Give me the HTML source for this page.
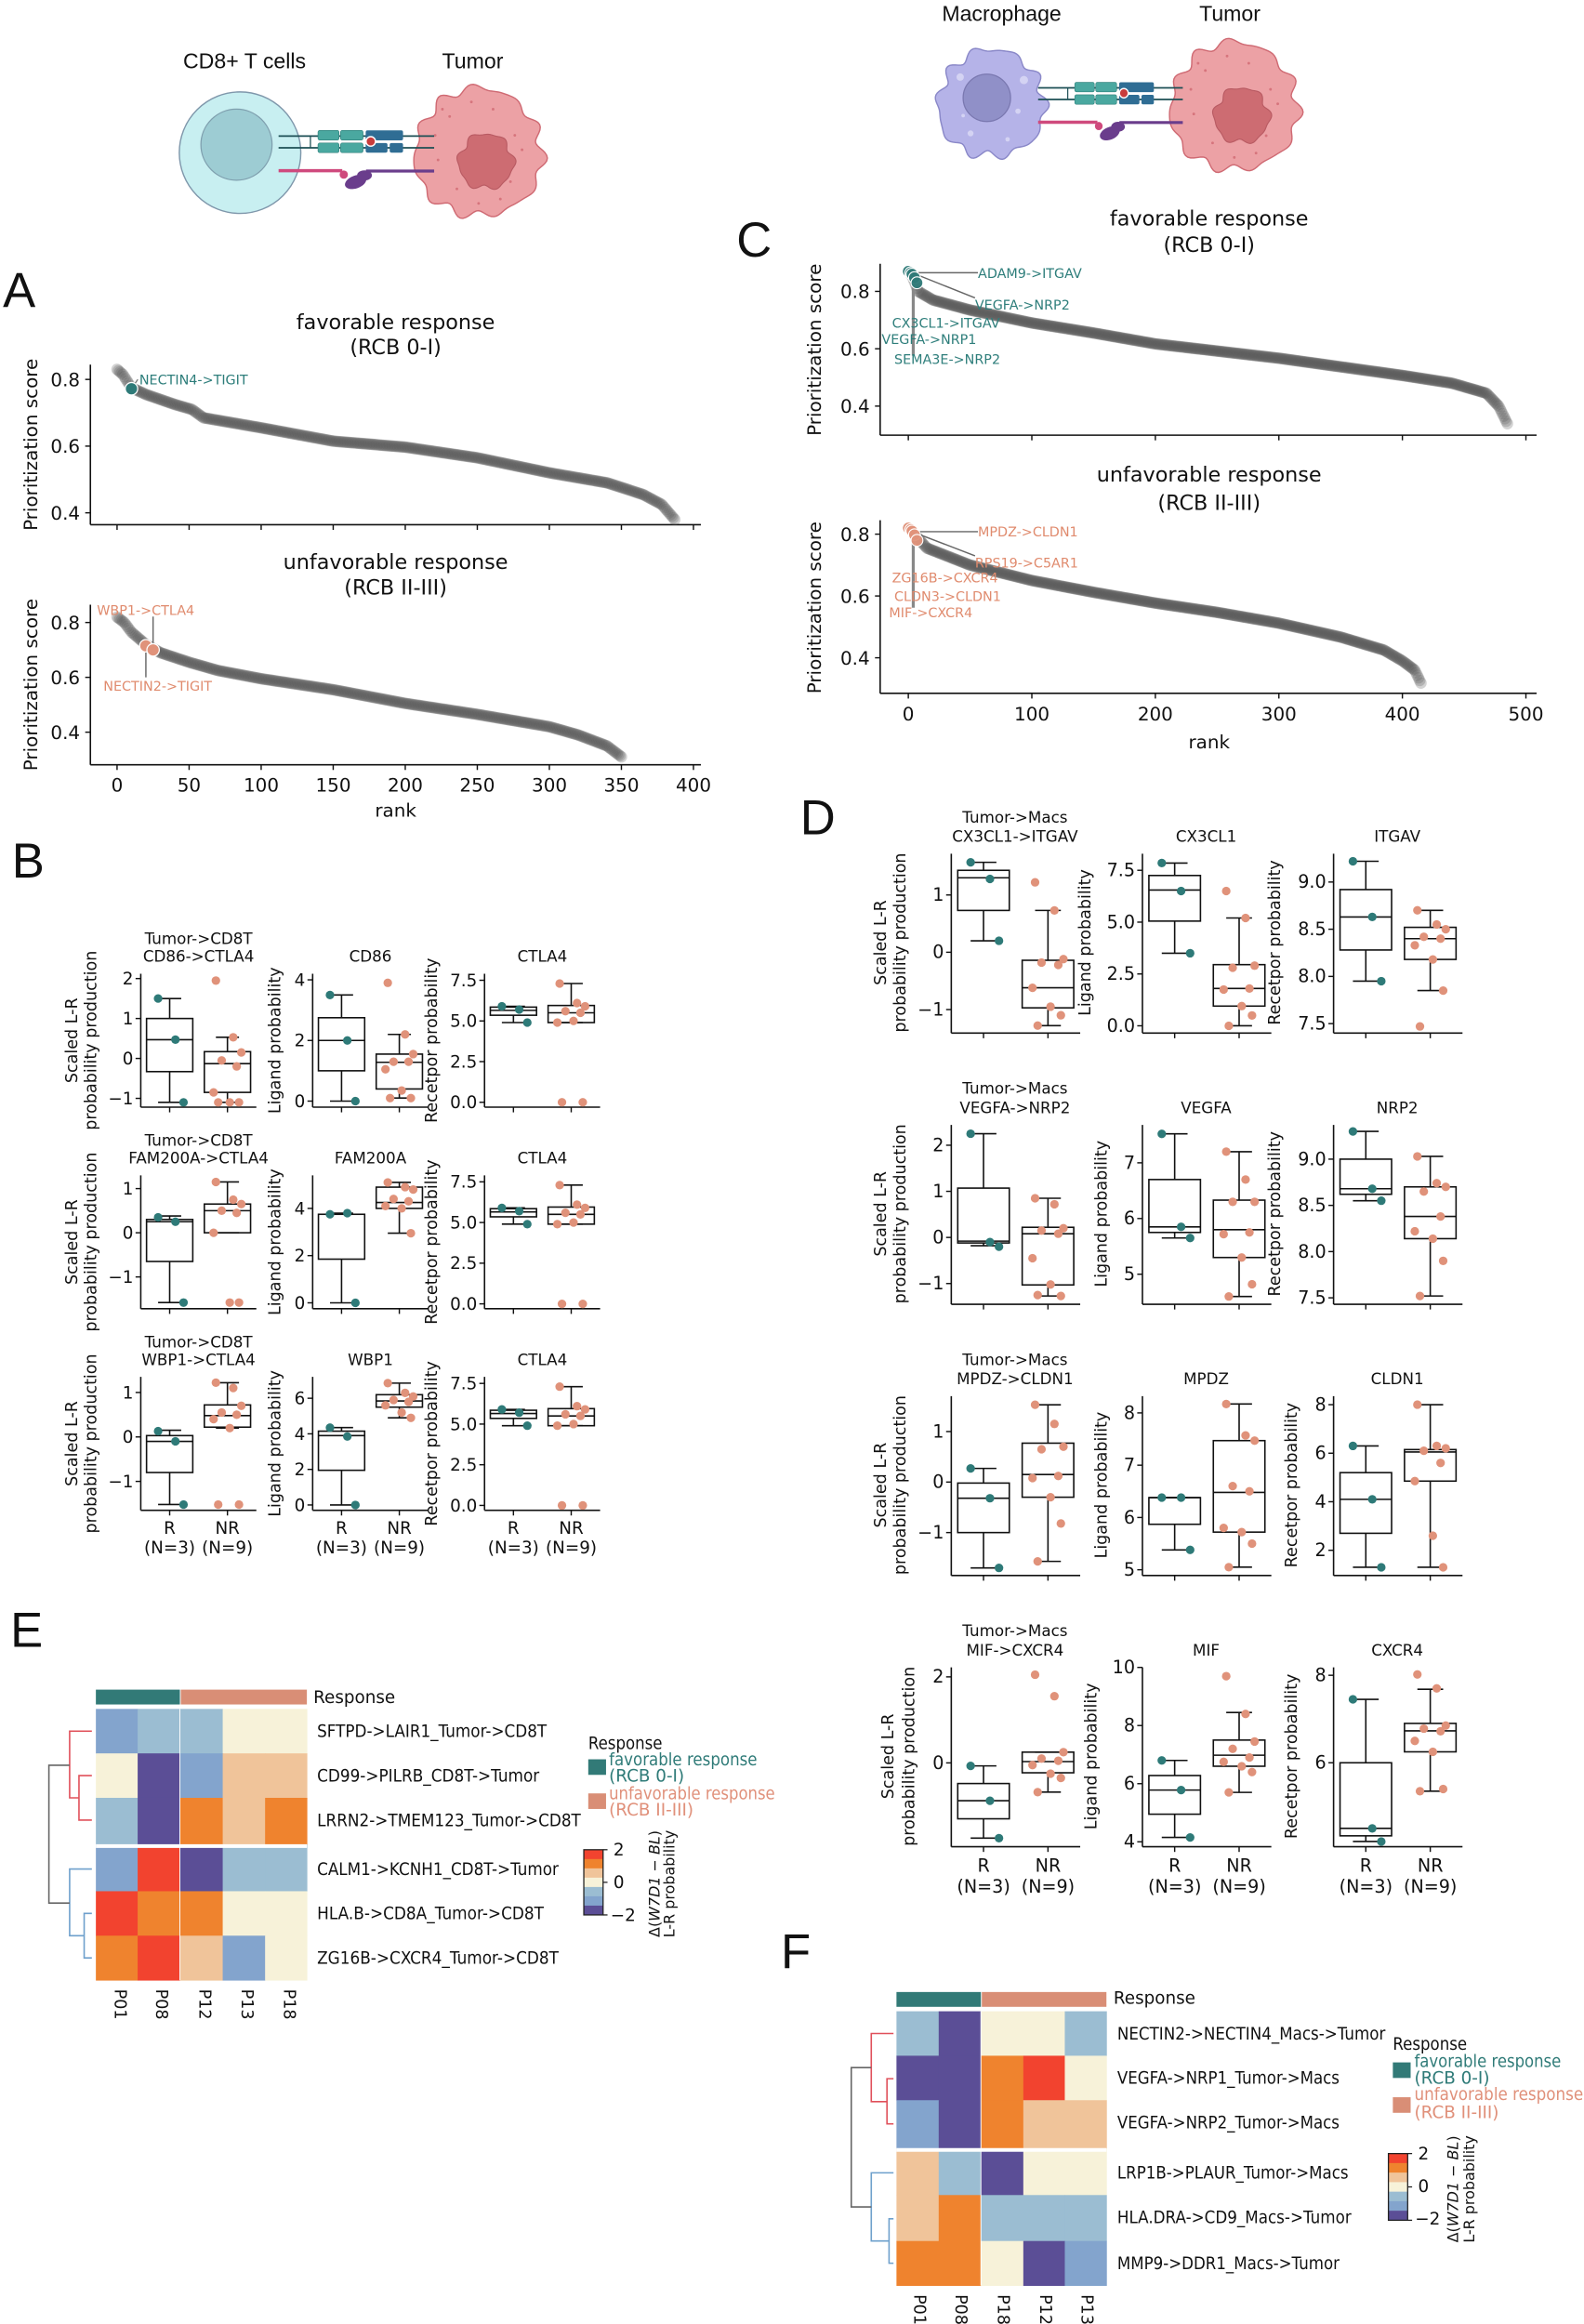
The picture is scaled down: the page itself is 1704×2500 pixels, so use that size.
<!DOCTYPE html>
<html><head><meta charset="utf-8"><style>
html,body{margin:0;padding:0;background:#fff}
svg{display:block}
text{font-family:"DejaVu Sans","Liberation Sans",sans-serif;fill:#111}
.big{font-family:"Liberation Sans",sans-serif;font-size:33px}
.ill{font-family:"Liberation Sans",sans-serif;font-size:14.5px}
.tk{font-size:12.5px}
.ttl{font-size:14px;text-anchor:middle}
.yl{font-size:12.5px;text-anchor:middle}
.bt{font-size:10.5px;text-anchor:middle}
.bl{font-size:11px;text-anchor:middle}
.yt{font-size:11.5px;text-anchor:end}
g[id^=d] text.yt{font-size:12px}
.ann{font-size:9px}
.hl{font-size:11.5px}
</style></head><body>
<svg id="s" xmlns="http://www.w3.org/2000/svg" width="1704" height="2500" viewBox="0 0 1069 1568" preserveAspectRatio="none">
<rect width="1069" height="1568" fill="#fff"/>
<g id="illA"></g><g id="illC"></g>
<text class="ill" x="165" y="46" text-anchor="middle">CD8+ T cells</text>
<text class="ill" x="319" y="46" text-anchor="middle">Tumor</text>
<text class="ill" x="676" y="14" text-anchor="middle">Macrophage</text>
<text class="ill" x="830" y="14" text-anchor="middle">Tumor</text>
<text class="big" x="2" y="207">A</text>
<text class="big" x="497" y="173">C</text>
<text class="big" x="8" y="592">B</text>
<text class="big" x="540" y="563">D</text>
<text class="big" x="7" y="1111">E</text>
<text class="big" x="527" y="1328">F</text>
<g id="scat"></g>
<text class="ttl" x="267" y="222">favorable response</text>
<text class="ttl" x="267" y="239">(RCB 0-I)</text>
<text class="ttl" x="267" y="384">unfavorable response</text>
<text class="ttl" x="267" y="401">(RCB II-III)</text>
<text class="yl" transform="translate(25,300) rotate(-90)">Prioritization score</text>
<text class="yl" transform="translate(25,462) rotate(-90)">Prioritization score</text>
<g class="tk" text-anchor="end">
<text x="54" y="260.5">0.8</text><text x="54" y="305.5">0.6</text><text x="54" y="350.5">0.4</text>
<text x="54" y="424.5">0.8</text><text x="54" y="461.5">0.6</text><text x="54" y="498.5">0.4</text>
</g>
<g class="tk" text-anchor="middle">
<text x="79" y="534">0</text><text x="127.6" y="534">50</text><text x="176.3" y="534">100</text><text x="224.9" y="534">150</text><text x="273.5" y="534">200</text><text x="322.1" y="534">250</text><text x="370.8" y="534">300</text><text x="419.4" y="534">350</text><text x="468" y="534">400</text>
<text x="267" y="551">rank</text>
</g>
<text class="ann" x="94" y="259.5" style="fill:#2e7e7b">NECTIN4-&gt;TIGIT</text>
<text class="ann" x="65.4" y="415" style="fill:#e08b6e">WBP1-&gt;CTLA4</text>
<text class="ann" x="69.8" y="466" style="fill:#e08b6e">NECTIN2-&gt;TIGIT</text>
<text class="ttl" x="816" y="152">favorable response</text>
<text class="ttl" x="816" y="170">(RCB 0-I)</text>
<text class="ttl" x="816" y="325">unfavorable response</text>
<text class="ttl" x="816" y="344">(RCB II-III)</text>
<text class="yl" transform="translate(554,236) rotate(-90)">Prioritization score</text>
<text class="yl" transform="translate(554,410) rotate(-90)">Prioritization score</text>
<g class="tk" text-anchor="end">
<text x="587" y="201">0.8</text><text x="587" y="239.8">0.6</text><text x="587" y="278.5">0.4</text>
<text x="587" y="364.9">0.8</text><text x="587" y="406.9">0.6</text><text x="587" y="448.3">0.4</text>
</g>
<g class="tk" text-anchor="middle">
<text x="613" y="486">0</text><text x="696.4" y="486">100</text><text x="779.7" y="486">200</text><text x="863.1" y="486">300</text><text x="946.4" y="486">400</text><text x="1029.8" y="486">500</text>
<text x="816" y="505">rank</text>
</g>
<g class="ann">
<text x="660" y="187.5" style="fill:#2e7e7b">ADAM9-&gt;ITGAV</text>
<text x="658" y="209" style="fill:#2e7e7b">VEGFA-&gt;NRP2</text>
<text x="602" y="221" style="fill:#2e7e7b">CX3CL1-&gt;ITGAV</text>
<text x="595" y="232" style="fill:#2e7e7b">VEGFA-&gt;NRP1</text>
<text x="603.5" y="245.5" style="fill:#2e7e7b">SEMA3E-&gt;NRP2</text>
</g>
<g class="ann">
<text x="660" y="362" style="fill:#e08b6e">MPDZ-&gt;CLDN1</text>
<text x="658" y="383" style="fill:#e08b6e">RPS19-&gt;C5AR1</text>
<text x="602" y="393" style="fill:#e08b6e">ZG16B-&gt;CXCR4</text>
<text x="603.5" y="405.5" style="fill:#e08b6e">CLDN3-&gt;CLDN1</text>
<text x="600" y="416.5" style="fill:#e08b6e">MIF-&gt;CXCR4</text>
</g>
<g id="b11"><text class="yt">2</text><text class="yt">1</text><text class="yt">0</text><text class="yt">−1</text></g>
<g id="b12"><text class="yt">0</text><text class="yt">2</text><text class="yt">4</text></g>
<g id="b13"><text class="yt">0.0</text><text class="yt">2.5</text><text class="yt">5.0</text><text class="yt">7.5</text></g>
<g id="b21"><text class="yt">1</text><text class="yt">0</text><text class="yt">−1</text></g>
<g id="b22"><text class="yt">0</text><text class="yt">2</text><text class="yt">4</text></g>
<g id="b23"><text class="yt">0.0</text><text class="yt">2.5</text><text class="yt">5.0</text><text class="yt">7.5</text></g>
<g id="b31"><text class="yt">1</text><text class="yt">0</text><text class="yt">−1</text></g>
<g id="b32"><text class="yt">0</text><text class="yt">2</text><text class="yt">4</text><text class="yt">6</text></g>
<g id="b33"><text class="yt">0.0</text><text class="yt">2.5</text><text class="yt">5.0</text><text class="yt">7.5</text></g>
<g>
<text class="bt" x="134" y="637">Tumor-&gt;CD8T</text><text class="bt" x="134" y="649">CD86-&gt;CTLA4</text>
<text class="bt" x="250" y="649">CD86</text><text class="bt" x="366" y="649">CTLA4</text>
<text class="bt" x="134" y="773">Tumor-&gt;CD8T</text><text class="bt" x="134" y="785">FAM200A-&gt;CTLA4</text>
<text class="bt" x="250" y="785">FAM200A</text><text class="bt" x="366" y="785">CTLA4</text>
<text class="bt" x="134" y="909">Tumor-&gt;CD8T</text><text class="bt" x="134" y="921">WBP1-&gt;CTLA4</text>
<text class="bt" x="250" y="921">WBP1</text><text class="bt" x="366" y="921">CTLA4</text>
</g>
<g>
<text class="bl" transform="translate(52,702) rotate(-90)">Scaled L-R</text><text class="bl" transform="translate(65,702) rotate(-90)">probability production</text>
<text class="bl" transform="translate(189,702) rotate(-90)">Ligand probability</text>
<text class="bl" transform="translate(295,702) rotate(-90)">Recetpor probability</text>
<text class="bl" transform="translate(52,838) rotate(-90)">Scaled L-R</text><text class="bl" transform="translate(65,838) rotate(-90)">probability production</text>
<text class="bl" transform="translate(189,838) rotate(-90)">Ligand probability</text>
<text class="bl" transform="translate(295,838) rotate(-90)">Recetpor probability</text>
<text class="bl" transform="translate(52,974) rotate(-90)">Scaled L-R</text><text class="bl" transform="translate(65,974) rotate(-90)">probability production</text>
<text class="bl" transform="translate(189,974) rotate(-90)">Ligand probability</text>
<text class="bl" transform="translate(295,974) rotate(-90)">Recetpor probability</text>
</g>
<g class="tk" style="font-size:11.5px" text-anchor="middle">
<text x="114.5" y="1035">R</text><text x="114.5" y="1048">(N=3)</text><text x="153.5" y="1035">NR</text><text x="153.5" y="1048">(N=9)</text>
<text x="230.5" y="1035">R</text><text x="230.5" y="1048">(N=3)</text><text x="269.5" y="1035">NR</text><text x="269.5" y="1048">(N=9)</text>
<text x="346.5" y="1035">R</text><text x="346.5" y="1048">(N=3)</text><text x="385.5" y="1035">NR</text><text x="385.5" y="1048">(N=9)</text>
</g>
<g id="d11"><text class="yt">1</text><text class="yt">0</text><text class="yt">−1</text></g>
<g id="d12"><text class="yt">0.0</text><text class="yt">2.5</text><text class="yt">5.0</text><text class="yt">7.5</text></g>
<g id="d13"><text class="yt">7.5</text><text class="yt">8.0</text><text class="yt">8.5</text><text class="yt">9.0</text></g>
<g id="d21"><text class="yt">2</text><text class="yt">1</text><text class="yt">0</text><text class="yt">−1</text></g>
<g id="d22"><text class="yt">5</text><text class="yt">6</text><text class="yt">7</text></g>
<g id="d23"><text class="yt">7.5</text><text class="yt">8.0</text><text class="yt">8.5</text><text class="yt">9.0</text></g>
<g id="d31"><text class="yt">1</text><text class="yt">0</text><text class="yt">−1</text></g>
<g id="d32"><text class="yt">5</text><text class="yt">6</text><text class="yt">7</text><text class="yt">8</text></g>
<g id="d33"><text class="yt">2</text><text class="yt">4</text><text class="yt">6</text><text class="yt">8</text></g>
<g id="d41"><text class="yt">2</text><text class="yt">0</text></g>
<g id="d42"><text class="yt">4</text><text class="yt">6</text><text class="yt">8</text><text class="yt">10</text></g>
<g id="d43"><text class="yt">6</text><text class="yt">8</text></g>
<g>
<text class="bt" x="685" y="555">Tumor-&gt;Macs</text><text class="bt" x="685" y="568">CX3CL1-&gt;ITGAV</text>
<text class="bt" x="814" y="568">CX3CL1</text><text class="bt" x="943" y="568">ITGAV</text>
<text class="bt" x="685" y="738">Tumor-&gt;Macs</text><text class="bt" x="685" y="751">VEGFA-&gt;NRP2</text>
<text class="bt" x="814" y="751">VEGFA</text><text class="bt" x="943" y="751">NRP2</text>
<text class="bt" x="685" y="921">Tumor-&gt;Macs</text><text class="bt" x="685" y="934">MPDZ-&gt;CLDN1</text>
<text class="bt" x="814" y="934">MPDZ</text><text class="bt" x="943" y="934">CLDN1</text>
<text class="bt" x="685" y="1104">Tumor-&gt;Macs</text><text class="bt" x="685" y="1117">MIF-&gt;CXCR4</text>
<text class="bt" x="814" y="1117">MIF</text><text class="bt" x="943" y="1117">CXCR4</text>
</g>
<g>
<text class="bl" transform="translate(598,636) rotate(-90)">Scaled L-R</text><text class="bl" transform="translate(611,636) rotate(-90)">probability production</text>
<text class="bl" transform="translate(736,636) rotate(-90)">Ligand probability</text>
<text class="bl" transform="translate(864,636) rotate(-90)">Recetpor probability</text>
<text class="bl" transform="translate(598,819) rotate(-90)">Scaled L-R</text><text class="bl" transform="translate(611,819) rotate(-90)">probability production</text>
<text class="bl" transform="translate(747,819) rotate(-90)">Ligand probability</text>
<text class="bl" transform="translate(864,819) rotate(-90)">Recetpor probability</text>
<text class="bl" transform="translate(598,1002) rotate(-90)">Scaled L-R</text><text class="bl" transform="translate(611,1002) rotate(-90)">probability production</text>
<text class="bl" transform="translate(747,1002) rotate(-90)">Ligand probability</text>
<text class="bl" transform="translate(875,1002) rotate(-90)">Recetpor probability</text>
<text class="bl" transform="translate(603,1185) rotate(-90)">Scaled L-R</text><text class="bl" transform="translate(617,1185) rotate(-90)">probability production</text>
<text class="bl" transform="translate(740,1185) rotate(-90)">Ligand probability</text>
<text class="bl" transform="translate(875,1185) rotate(-90)">Recetpor probability</text>
</g>
<g class="tk" style="font-size:12px" text-anchor="middle">
<text x="663.8" y="1263">R</text><text x="663.8" y="1277">(N=3)</text><text x="707.3" y="1263">NR</text><text x="707.3" y="1277">(N=9)</text>
<text x="792.8" y="1263">R</text><text x="792.8" y="1277">(N=3)</text><text x="836.3" y="1263">NR</text><text x="836.3" y="1277">(N=9)</text>
<text x="921.8" y="1263">R</text><text x="921.8" y="1277">(N=3)</text><text x="965.3" y="1263">NR</text><text x="965.3" y="1277">(N=9)</text>
</g>
<g id="hmE"></g>
<g class="hl">
<text x="211.5" y="1149">Response</text>
<text x="214" y="1172" textLength="155" lengthAdjust="spacingAndGlyphs">SFTPD-&gt;LAIR1_Tumor-&gt;CD8T</text>
<text x="214" y="1202" textLength="150" lengthAdjust="spacingAndGlyphs">CD99-&gt;PILRB_CD8T-&gt;Tumor</text>
<text x="214" y="1232" textLength="178" lengthAdjust="spacingAndGlyphs">LRRN2-&gt;TMEM123_Tumor-&gt;CD8T</text>
<text x="214" y="1265" textLength="163" lengthAdjust="spacingAndGlyphs">CALM1-&gt;KCNH1_CD8T-&gt;Tumor</text>
<text x="214" y="1295" textLength="153" lengthAdjust="spacingAndGlyphs">HLA.B-&gt;CD8A_Tumor-&gt;CD8T</text>
<text x="214" y="1325" textLength="163" lengthAdjust="spacingAndGlyphs">ZG16B-&gt;CXCR4_Tumor-&gt;CD8T</text>
<text x="397" y="1180" textLength="50" lengthAdjust="spacingAndGlyphs">Response</text>
<text x="411" y="1191" textLength="100" lengthAdjust="spacingAndGlyphs" style="fill:#2f7b78">favorable response</text>
<text x="411" y="1202" style="fill:#2f7b78">(RCB 0-I)</text>
<text x="411" y="1214" textLength="112" lengthAdjust="spacingAndGlyphs" style="fill:#e0907a">unfavorable response</text>
<text x="411" y="1225" style="fill:#e0907a">(RCB II-III)</text>
<text x="414" y="1252">2</text><text x="414" y="1274">0</text><text x="412" y="1296">−2</text>
</g>
<text style="font-size:10px" text-anchor="middle" transform="translate(445,1271) rotate(-90)">Δ(<tspan font-style="italic">W7D1</tspan> − <tspan font-style="italic">BL</tspan>)</text>
<text style="font-size:10px" text-anchor="middle" transform="translate(455,1271) rotate(-90)">L-R probability</text>
<g class="hl" style="font-size:11px">
<text transform="translate(77.5,1342) rotate(90)">P01</text>
<text transform="translate(105.5,1342) rotate(90)">P08</text>
<text transform="translate(134.5,1342) rotate(90)">P12</text>
<text transform="translate(163,1342) rotate(90)">P13</text>
<text transform="translate(191.5,1342) rotate(90)">P18</text>
</g>
<g id="hmF"></g>
<g class="hl">
<text x="751.5" y="1352">Response</text>
<text x="754" y="1376" textLength="181" lengthAdjust="spacingAndGlyphs">NECTIN2-&gt;NECTIN4_Macs-&gt;Tumor</text>
<text x="754" y="1406" textLength="150" lengthAdjust="spacingAndGlyphs">VEGFA-&gt;NRP1_Tumor-&gt;Macs</text>
<text x="754" y="1436" textLength="150" lengthAdjust="spacingAndGlyphs">VEGFA-&gt;NRP2_Tumor-&gt;Macs</text>
<text x="754" y="1470" textLength="156" lengthAdjust="spacingAndGlyphs">LRP1B-&gt;PLAUR_Tumor-&gt;Macs</text>
<text x="754" y="1500" textLength="158" lengthAdjust="spacingAndGlyphs">HLA.DRA-&gt;CD9_Macs-&gt;Tumor</text>
<text x="754" y="1531" textLength="150" lengthAdjust="spacingAndGlyphs">MMP9-&gt;DDR1_Macs-&gt;Tumor</text>
<text x="940" y="1383" textLength="50" lengthAdjust="spacingAndGlyphs">Response</text>
<text x="954.5" y="1394.5" textLength="99" lengthAdjust="spacingAndGlyphs" style="fill:#2f7b78">favorable response</text>
<text x="954.5" y="1406" style="fill:#2f7b78">(RCB 0-I)</text>
<text x="954.5" y="1417" textLength="114" lengthAdjust="spacingAndGlyphs" style="fill:#e0907a">unfavorable response</text>
<text x="954.5" y="1429" style="fill:#e0907a">(RCB II-III)</text>
<text x="957" y="1457">2</text><text x="957" y="1479">0</text><text x="955" y="1501">−2</text>
</g>
<text style="font-size:10px" text-anchor="middle" transform="translate(984,1477) rotate(-90)">Δ(<tspan font-style="italic">W7D1</tspan> − <tspan font-style="italic">BL</tspan>)</text>
<text style="font-size:10px" text-anchor="middle" transform="translate(995,1477) rotate(-90)">L-R probability</text>
<g class="hl" style="font-size:11px">
<text transform="translate(617,1548) rotate(90)">P01</text>
<text transform="translate(645,1548) rotate(90)">P08</text>
<text transform="translate(673.5,1548) rotate(90)">P18</text>
<text transform="translate(702,1548) rotate(90)">P12</text>
<text transform="translate(730,1548) rotate(90)">P13</text>
</g>
</svg>
<script>
(function(){
var NS='http://www.w3.org/2000/svg';
function el(p,t,a){var e=document.createElementNS(NS,t);for(var k in a)e.setAttribute(k,a[k]);p.appendChild(e);return e;}
function G(id){return document.getElementById(id);}
var TEAL='#2e7a78',SAL='#e0927a';
function interp(K,r){for(var i=0;i<K.length-1;i++){if(r<=K[i+1][0]){var t=(r-K[i][0])/(K[i+1][0]-K[i][0]);return K[i][1]+t*(K[i+1][1]-K[i][1]);}}return K[K.length-1][1];}
var sc=G('scat');
function axes(x0,x1,yt,yb,ticksY,ticksX,yf,xf){
 el(sc,'line',{x1:x0,y1:yt,x2:x0,y2:yb,stroke:'#111','stroke-width':1});
 el(sc,'line',{x1:x0,y1:yb,x2:x1,y2:yb,stroke:'#111','stroke-width':1});
 ticksY.forEach(function(v){var y=yf(v);el(sc,'line',{x1:x0-3.5,y1:y,x2:x0,y2:y,stroke:'#111','stroke-width':0.9});});
 ticksX.forEach(function(v){var x=xf(v);el(sc,'line',{x1:x,y1:yb,x2:x,y2:yb+3.5,stroke:'#111','stroke-width':0.9});});
}
function scat(N,K,xf,yf){var g=el(sc,'g',{fill:'#555','fill-opacity':0.26});for(var r=0;r<N;r++){el(g,'circle',{cx:xf(r),cy:yf(interp(K,r)),r:3.9});}}
var xA=function(r){return 79+r*0.9725;};
var yA1=function(v){return 256+(0.8-v)*225;};
var yA2=function(v){return 420+(0.8-v)*185;};
axes(61,473,246,354,[0.8,0.6,0.4],[0,50,100,150,200,250,300,350,400],yA1,xA);
axes(61,473,408,516,[0.8,0.6,0.4],[0,50,100,150,200,250,300,350,400],yA2,xA);
scat(388,[[0,0.83],[4,0.815],[10,0.775],[20,0.755],[40,0.725],[52,0.71],[60,0.685],[100,0.655],[150,0.615],[200,0.597],[250,0.565],[300,0.52],[340,0.49],[365,0.455],[378,0.425],[387,0.38]],xA,yA1);
scat(351,[[0,0.82],[5,0.80],[10,0.765],[20,0.72],[30,0.69],[50,0.655],[70,0.625],[100,0.595],[150,0.555],[200,0.505],[250,0.465],[300,0.42],[320,0.39],[340,0.35],[350,0.31]],xA,yA2);
el(sc,'line',{x1:xA(10),y1:yA1(0.772),x2:93,y2:256,stroke:'#777','stroke-width':0.8});
el(sc,'circle',{cx:xA(10),cy:yA1(0.772),r:4.2,fill:TEAL,stroke:'#fff','stroke-width':0.8});
el(sc,'line',{x1:xA(25),y1:416,x2:xA(25),y2:yA2(0.70),stroke:'#666','stroke-width':0.9});
el(sc,'line',{x1:xA(20),y1:yA2(0.715),x2:xA(20),y2:457,stroke:'#666','stroke-width':0.9});
el(sc,'circle',{cx:xA(20),cy:yA2(0.715),r:4.2,fill:SAL,stroke:'#fff','stroke-width':0.8});
el(sc,'circle',{cx:xA(25),cy:yA2(0.70),r:4.2,fill:SAL,stroke:'#fff','stroke-width':0.8});
var xC=function(r){return 613+r*0.8336;};
var yC1=function(v){return 196.6+(0.8-v)*193.5;};
var yC2=function(v){return 360.4+(0.8-v)*208.5;};
axes(594,1037,178,293.6,[0.8,0.6,0.4],[0,100,200,300,400,500],yC1,xC);
axes(594,1037,351,467.8,[0.8,0.6,0.4],[0,100,200,300,400,500],yC2,xC);
scat(486,[[0,0.87],[3,0.855],[8,0.80],[20,0.77],[50,0.735],[100,0.69],[150,0.655],[200,0.617],[250,0.592],[300,0.567],[350,0.537],[400,0.507],[440,0.48],[468,0.445],[478,0.40],[486,0.33]],xC,yC1);
scat(416,[[0,0.82],[5,0.80],[15,0.755],[50,0.70],[100,0.65],[150,0.612],[200,0.577],[250,0.547],[300,0.512],[350,0.467],[385,0.425],[400,0.39],[410,0.36],[416,0.31]],xC,yC2);
function hlC(yf,col,yH,yD,yV){
 el(sc,'line',{x1:xC(3),y1:yH,x2:660,y2:yH,stroke:'#666','stroke-width':0.9});
 el(sc,'line',{x1:xC(3),y1:yH,x2:658,y2:yD,stroke:'#666','stroke-width':0.9});
 el(sc,'line',{x1:xC(4),y1:yH,x2:xC(4),y2:yV,stroke:'#888','stroke-width':2});
 [[0,0.87],[2,0.865],[3,0.86],[5,0.848],[7,0.83]].forEach(function(p){el(sc,'circle',{cx:xC(p[0]),cy:yf(p[1]-(col==SAL?0.05:0)),r:4,fill:col,stroke:'#fff','stroke-width':0.7,'fill-opacity':0.95});});
}
hlC(yC1,TEAL,184,201,240);
hlC(yC2,SAL,358.7,375,410);
var jit=[-0.1,0.05,0.12,-0.05,0.08,-0.12,0.02,0.1,-0.08,0.0];
function box(id,x0,y0,w,h,lo,hi,R,NR){
 var g=G(id);var yf=function(v){return y0+h*(hi-v)/(hi-lo);};
 el(g,'line',{x1:x0,y1:y0,x2:x0,y2:y0+h,stroke:'#111','stroke-width':1});
 el(g,'line',{x1:x0,y1:y0+h,x2:x0+w,y2:y0+h,stroke:'#111','stroke-width':1});
 var ts=g.querySelectorAll('text');
 for(var i=0;i<ts.length;i++){var v=parseFloat(ts[i].textContent.replace('−','-'));var y=yf(v);ts[i].setAttribute('x',x0-5);ts[i].setAttribute('y',y+4);el(g,'line',{x1:x0-3.5,y1:y,x2:x0,y2:y,stroke:'#111','stroke-width':0.9});}
 [[R,0.25,TEAL],[NR,0.75,SAL]].forEach(function(q){
  var d=q[0],cx=x0+q[1]*w,bw=0.4*w,c=q[2];
  el(g,'line',{x1:cx,y1:y0+h,x2:cx,y2:y0+h+3.5,stroke:'#111','stroke-width':0.9});
  el(g,'line',{x1:cx,y1:yf(d[0]),x2:cx,y2:yf(d[2]),stroke:'#111','stroke-width':1});
  el(g,'line',{x1:cx,y1:yf(d[3]),x2:cx,y2:yf(d[1]),stroke:'#111','stroke-width':1});
  el(g,'line',{x1:cx-bw/4,y1:yf(d[0]),x2:cx+bw/4,y2:yf(d[0]),stroke:'#111','stroke-width':1});
  el(g,'line',{x1:cx-bw/4,y1:yf(d[1]),x2:cx+bw/4,y2:yf(d[1]),stroke:'#111','stroke-width':1});
  el(g,'rect',{x:cx-bw/2,y:yf(d[3]),width:bw,height:Math.max(0.5,yf(d[2])-yf(d[3])),fill:'none',stroke:'#111','stroke-width':1});
  el(g,'line',{x1:cx-bw/2,y1:yf(d[4]),x2:cx+bw/2,y2:yf(d[4]),stroke:'#111','stroke-width':1});
  d[5].forEach(function(v,k){el(g,'circle',{cx:cx+jit[k%10]*w,cy:yf(v),r:2.9,fill:c});});
 });
}
var CT=[[4.9,5.9,5.35,5.85,5.65,[5.9,5.7,4.9]],[4.9,7.3,4.9,5.95,5.5,[7.3,6.1,5.9,5.6,5.5,4.9,5.0,0,0]]];
var BX=[95,211,327],BY=[657,793,929];
box('b11',BX[0],BY[0],78,90,-1.22,2.12,[-1.1,1.5,-0.33,1.0,0.47,[1.5,0.47,-1.1]],[-1.1,0.53,-0.85,0.17,-0.13,[1.95,0.53,0.15,-0.05,-0.2,-0.85,-1.1,-1.1,-1.1]]);
box('b12',BX[1],BY[0],78,90,-0.2,4.2,[0,3.5,1.0,2.75,2.0,[3.5,2.0,0]],[0.1,2.2,0.4,1.55,1.28,[3.9,2.2,1.55,1.3,1.3,1.05,0.35,0.1,0.1]]);
box('b13',BX[2],BY[0],78,90,-0.3,7.9,CT[0],CT[1]);
box('b21',BX[0],BY[1],78,90,-1.72,1.3,[-1.58,0.38,-0.65,0.3,0.25,[0.35,0.25,-1.58]],[0,1.15,0,0.65,0.5,[1.15,0.75,0.65,0.5,0.45,0,-1.58,-1.58]]);
box('b22',BX[1],BY[1],78,90,-0.25,5.4,[0,3.8,1.85,3.75,3.75,[3.75,3.8,0]],[2.95,5.1,4.0,4.9,4.25,[5.1,4.9,4.8,4.4,4.3,4.1,4.0,2.95]]);
box('b23',BX[2],BY[1],78,90,-0.3,7.9,CT[0],CT[1]);
box('b31',BX[0],BY[2],78,90,-1.65,1.35,[-1.52,0.15,-0.8,0.03,-0.1,[0.13,-0.1,-1.52]],[0.2,1.22,0.22,0.72,0.48,[1.22,1.1,0.7,0.55,0.5,0.4,0.2,-1.52,-1.52]]);
box('b32',BX[1],BY[2],78,90,-0.3,7.2,[0,4.35,1.95,4.15,3.9,[4.35,3.85,0]],[4.9,6.85,5.5,6.2,5.85,[6.85,6.3,6.1,5.9,5.8,5.6,5.2,4.9]]);
box('b33',BX[2],BY[2],78,90,-0.3,7.9,CT[0],CT[1]);
var DX=[642,771,900],DY=[576,759,942,1125],W=87,H=121;
box('d11',DX[0],DY[0],W,H,-1.41,1.72,[0.2,1.57,0.73,1.43,1.3,[1.57,1.28,0.2]],[-1.28,0.73,-0.97,-0.14,-0.62,[1.22,0.73,-0.12,-0.18,-0.22,-0.62,-0.95,-1.1,-1.28]]);
box('d12',DX[1],DY[0],W,H,-0.35,8.3,[3.5,7.85,5.05,7.25,6.55,[7.85,6.5,3.5]],[0,5.2,0.95,2.95,1.8,[6.5,5.2,2.9,2.8,1.8,1.75,0.95,0.5,0]]);
box('d13',DX[2],DY[0],W,H,7.4,9.3,[7.95,9.22,8.28,8.92,8.63,[9.22,8.63,7.95]],[7.85,8.7,8.18,8.52,8.4,[8.7,8.55,8.5,8.42,8.4,8.33,8.18,7.85,7.47]]);
box('d21',DX[0],DY[1],W,H,-1.45,2.44,[-0.18,2.25,-0.12,1.07,-0.08,[2.25,-0.1,-0.2]],[-1.27,0.85,-1.03,0.22,0.08,[0.85,0.72,0.2,0.15,0.08,-0.45,-1.02,-1.27,-1.25]]);
box('d22',DX[1],DY[1],W,H,4.46,7.68,[5.65,7.52,5.75,6.7,5.85,[7.52,5.85,5.65]],[4.6,7.2,5.3,6.33,5.8,[7.2,6.7,6.3,6.3,5.75,5.72,5.3,4.82,4.6]]);
box('d23',DX[2],DY[1],W,H,7.43,9.37,[8.55,9.3,8.62,9.0,8.68,[9.3,8.68,8.55]],[7.52,9.03,8.14,8.7,8.38,[9.03,8.74,8.7,8.65,8.38,8.22,8.14,7.9,7.52]]);
box('d31',DX[0],DY[2],W,H,-1.85,1.7,[-1.7,0.27,-1.0,-0.02,-0.32,[0.27,-0.32,-1.7]],[-1.57,1.53,-0.3,0.77,0.15,[1.53,1.15,0.7,0.65,0.12,0.08,-0.3,-0.82,-1.57]]);
box('d32',DX[1],DY[2],W,H,4.89,8.32,[5.38,6.38,5.87,6.38,6.38,[6.38,6.38,5.38]],[5.05,8.17,5.72,7.47,6.48,[8.17,7.57,7.47,6.6,6.5,5.8,5.72,5.5,5.05]]);
box('d33',DX[2],DY[2],W,H,0.96,8.35,[1.3,6.3,2.7,5.2,4.1,[6.3,4.1,1.3]],[1.3,8.0,4.85,6.15,6.05,[8.0,6.3,6.2,6.1,5.6,4.85,2.6,1.3]]);
box('d41',DX[0],DY[3],W,H,-1.95,2.22,[-1.75,-0.07,-1.3,-0.48,-0.88,[-0.07,-0.88,-1.75]],[-0.68,0.25,-0.23,0.25,0.03,[2.05,1.55,0.25,0.1,0.05,-0.05,-0.25,-0.35,-0.68]]);
box('d42',DX[1],DY[3],W,H,3.83,10,[4.15,6.8,4.95,6.28,5.78,[6.8,5.78,4.15]],[5.7,8.45,6.6,7.5,6.98,[9.7,8.4,7.45,7.2,6.9,6.75,6.6,6.4,5.7]]);
box('d43',DX[2],DY[3],W,H,4.08,8.18,[4.2,7.45,4.33,6.0,4.5,[7.45,4.5,4.2]],[5.35,7.68,6.25,6.9,6.73,[8.02,7.7,6.85,6.78,6.72,6.5,6.25,5.4,5.35]]);
var CM={P:'#5b4e96',B:'#83a4cd',L:'#9bbdd2',C:'#f7f2d9',K:'#f0c49a',O:'#ef832e',R:'#f2432f'};
function heat(id,xs,ys,split,mat,bar,cb,den){
 var g=G(id);
 el(g,'rect',{x:xs[0],y:bar[0],width:split-xs[0],height:bar[1]-bar[0],fill:'#327a77'});
 el(g,'rect',{x:split+0.6,y:bar[0],width:xs[5]-split-0.6,height:bar[1]-bar[0],fill:'#d98e76'});
 for(var r=0;r<6;r++)for(var c=0;c<5;c++){el(g,'rect',{x:xs[c],y:ys[r],width:xs[c+1]-xs[c]+0.3,height:ys[r+1]-ys[r]+0.3,fill:CM[mat[r][c]]});}
 el(g,'line',{x1:split,y1:ys[0],x2:split,y2:ys[6],stroke:'#fff','stroke-width':0.6});
 el(g,'rect',{x:xs[0],y:ys[3]-0.2,width:xs[5]-xs[0],height:2.5,fill:'#fff'});
 el(g,'rect',{x:cb.lx,y:cb.s1,width:12,height:10.5,fill:'#327a77'});
 el(g,'rect',{x:cb.lx,y:cb.s2,width:12,height:10.5,fill:'#d98e76'});
 var cols=['R','O','K','C','L','B','P'],sh=(cb.y1-cb.y0)/7;
 cols.forEach(function(k,i){el(g,'rect',{x:cb.x,y:cb.y0+i*sh,width:13,height:sh+0.2,fill:CM[k]});});
 el(g,'rect',{x:cb.x,y:cb.y0,width:13,height:cb.y1-cb.y0,fill:'none',stroke:'#222','stroke-width':0.8});
 [cb.y0,(cb.y0+cb.y1)/2,cb.y1].forEach(function(y){el(g,'line',{x1:cb.x+13,y1:y,x2:cb.x+16,y2:y,stroke:'#222','stroke-width':0.8});});
 den.forEach(function(d){el(g,'path',{d:d[0],stroke:d[1],fill:'none','stroke-width':1});});
}
var E=[['B','L','L','C','C'],['C','P','B','K','K'],['L','P','O','K','O'],['B','R','P','L','L'],['R','O','O','C','C'],['O','R','K','B','C']];
heat('hmE',[64.7,92.9,121.4,150.3,178.9,207.1],[1153,1183,1213,1244.5,1276,1306,1336],121.4,E,[1140,1150],{x:394,y0:1248,y1:1292,lx:397,s1:1187,s2:1210},[
 ['M62,1168 H47 V1213 H53.3','#e0505a'],['M62,1198 H53.3 V1228 H62','#e0505a'],
 ['M62,1261 H47 V1306 H56.8','#6ea0cc'],['M62,1291 H56.8 V1321 H62','#6ea0cc'],
 ['M47,1191 H33 V1284 H47','#666']]);
var F=[['L','P','C','C','L'],['P','P','O','R','C'],['B','P','O','K','K'],['K','L','P','C','C'],['K','O','L','L','L'],['O','O','C','P','B']];
heat('hmF',[605,633.5,662,690.6,718.6,746.7],[1357,1387,1417,1449.5,1481,1512,1542],662,F,[1344,1354],{x:937,y0:1453,y1:1498,lx:940,s1:1391.5,s2:1415},[
 ['M603,1372 H588 V1418 H598.6','#e0505a'],['M603,1402.5 H598.6 V1433 H603','#e0505a'],
 ['M603,1466 H588 V1512 H600','#6ea0cc'],['M603,1497 H600 V1527 H603','#6ea0cc'],
 ['M588,1395 H574.5 V1489 H588','#666']]);
function blob(cx,cy,r,a,n,ph){var d='';for(var i=0;i<=160;i++){var t=i/160*Math.PI*2;var rr=r+a*Math.sin(n*t+ph)+a*0.6*Math.sin((n+3)*t+ph*2)+a*0.4*Math.sin(3*t);d+=(i?'L':'M')+(cx+rr*Math.cos(t)).toFixed(2)+','+(cy+rr*Math.sin(t)).toFixed(2);}return d+'Z';}
function tumor(g,cx,cy,r){el(g,'path',{d:blob(cx,cy,r,2.2,11,0.4),fill:'#eca1a5',stroke:'#cf6a73','stroke-width':0.9});
 el(g,'path',{d:blob(cx+5,cy+6,r*0.43,1.3,6,1.2),fill:'#cd6c72',stroke:'#b85a62','stroke-width':0.7});
 var pts=[[-20,-25],[10,-30],[25,-12],[-28,5],[-15,25],[22,20],[30,-2],[-5,-35],[-30,-12],[15,32],[0,35],[-25,-30]];
 pts.forEach(function(p){el(g,'circle',{cx:cx+p[0]*r/44,cy:cy+p[1]*r/44,r:0.9,fill:'#d6747c'});});}
function conn(g){
 el(g,'line',{x1:0,y1:0,x2:105,y2:0,stroke:'#1d4f55','stroke-width':1.1});
 el(g,'line',{x1:0,y1:7.9,x2:105,y2:7.9,stroke:'#1d4f55','stroke-width':1.1});
 el(g,'line',{x1:21.5,y1:0,x2:21.5,y2:7.9,stroke:'#1d4f55','stroke-width':0.8});
 [[26.6,14.2],[41.8,15.2]].forEach(function(q){[-3.8,4.7].forEach(function(y){el(g,'rect',{x:q[0],y:y,width:q[1],height:6.5,rx:1.2,fill:'#4aa8a0',stroke:'#2f7f7a','stroke-width':0.4});});});
 el(g,'rect',{x:58.8,y:-3.8,width:25.2,height:6.7,rx:1.2,fill:'#2f6d94'});
 el(g,'rect',{x:58.8,y:4.7,width:14.7,height:6.5,rx:1.2,fill:'#2f6d94'});
 el(g,'rect',{x:75,y:4.7,width:9,height:6.5,rx:1.2,fill:'#2f6d94'});
 el(g,'circle',{cx:62.2,cy:3.6,r:3.2,fill:'#c83c3c',stroke:'#fff','stroke-width':0.9});
 el(g,'line',{x1:0,y1:23.4,x2:43,y2:23.4,stroke:'#cf4a7d','stroke-width':2.2});
 el(g,'circle',{cx:44,cy:26,r:2.8,fill:'#cf4a7d'});
 el(g,'ellipse',{cx:52,cy:31,rx:7.5,ry:4.3,fill:'#6a3d8c',transform:'rotate(-20 52 31)'});
 el(g,'ellipse',{cx:58,cy:26.5,rx:5,ry:3.4,fill:'#6a3d8c'});
 el(g,'line',{x1:59,y1:23.6,x2:105,y2:23.6,stroke:'#6a3d8c','stroke-width':2});
}
var iA=G('illA');
el(iA,'circle',{cx:162,cy:103,r:41,fill:'#c8eff1',stroke:'#7f97ab','stroke-width':0.9});
el(iA,'circle',{cx:159.6,cy:97.6,r:24,fill:'#9dccd3',stroke:'#7f9fae','stroke-width':0.8});
tumor(iA,323,103,43);
conn(el(iA,'g',{transform:'translate(188,91.8)'}));
var iC=G('illC');
el(iC,'path',{d:blob(669,70,36,2.2,10,1.0),fill:'#b5b3e8',stroke:'#8a88c8','stroke-width':0.9});
el(iC,'circle',{cx:666,cy:66,r:16,fill:'#9090c8',stroke:'#7a78b0','stroke-width':0.8});
[[648,52,2.5],[691,54,2.8],[687,75,1.8],[655,90,2],[680,94,1.5],[650,78,1.2]].forEach(function(p){el(iC,'circle',{cx:p[0],cy:p[1],r:p[2],fill:'#d4d3f3'});});
tumor(iC,833,72,43);
conn(el(iC,'g',{transform:'translate(700.6,59.3) scale(0.93,0.99)'}));
})();
</script>
</body></html>
